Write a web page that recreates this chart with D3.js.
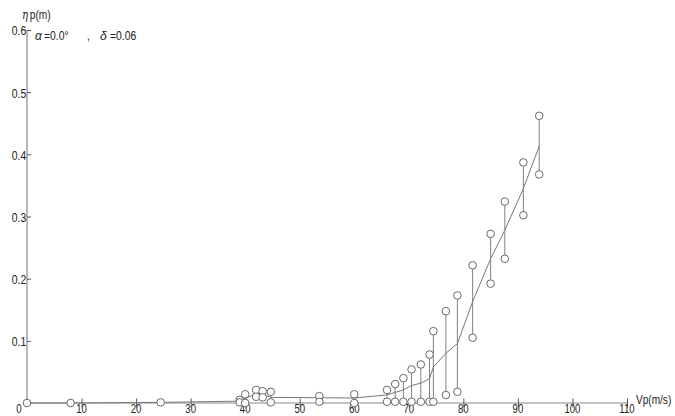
<!DOCTYPE html>
<html>
<head>
<meta charset="utf-8">
<script src="https://cdn.jsdelivr.net/npm/d3@7"></script>
<style>
  html, body { margin: 0; padding: 0; background: #fff; }
  svg { display: block; }
  text { font-family: "Liberation Sans", Arial, sans-serif; fill: #222; }
</style>
</head>
<body>
<svg id="chart" width="675" height="416"></svg>
<script>
// Flight speed Vp (m/s) at each measurement station
const speeds = [0, 8, 24.5, 39, 40, 42, 43.2, 44.7, 53.6, 60, 66, 67.5, 69, 70.5, 72.2, 73.8, 74.5, 76.8, 78.9, 81.7, 85, 87.6, 91, 93.9];
// Largest and smallest measured ηp (m) at each speed
const upperValues = [0, 0, 0.001, 0.005, 0.014, 0.021, 0.019, 0.018, 0.011, 0.014, 0.021, 0.0305, 0.040, 0.054, 0.062, 0.078, 0.1156, 0.1477, 0.173, 0.2215, 0.272, 0.324, 0.387, 0.462];
const lowerValues = [0, 0, 0.001, 0.001, 0.0, 0.010, 0.009, 0.001, 0.002, 0.0, 0.002, 0.002, 0.002, 0.002, 0.002, 0.002, 0.002, 0.0128, 0.018, 0.105, 0.192, 0.232, 0.302, 0.3676];
// Mean ηp (m) curve
const meanValues = [0, 0, 0.001, 0.003, 0.007, 0.015, 0.014, 0.009, 0.0085, 0.008, 0.013, 0.017, 0.021, 0.028, 0.032, 0.039, 0.058, 0.08, 0.0955, 0.163, 0.232, 0.278, 0.345, 0.413];
// Axis ticks
const xTicks = [10, 20, 30, 40, 50, 60, 70, 80, 90, 100, 110];
const yTicks = [0.1, 0.2, 0.3, 0.4, 0.5, 0.6];

const svg = d3.select("#chart");
const x = d3.scaleLinear().domain([0, 110]).range([27, 627]);
const y = d3.scaleLinear().domain([0, 0.6]).range([403, 30]);

const axisColor = "#8a8a8a";
const squeeze = 0.8; // narrow lettering

// Text placed at (px, py) and compressed horizontally
function label(parent, px, py, str, size, anchor, sx) {
  return parent.append("text")
    .attr("transform", `translate(${px},${py}) scale(${sx || squeeze},1)`)
    .attr("text-anchor", anchor || "start")
    .attr("font-size", size)
    .text(str);
}

// Axis lines
svg.append("line").attr("x1", x(0)).attr("x2", x(110)).attr("y1", y(0)).attr("y2", y(0))
  .attr("stroke", axisColor).attr("stroke-width", 1.2);
svg.append("line").attr("x1", x(0)).attr("x2", x(0)).attr("y1", y(0)).attr("y2", y(0.6))
  .attr("stroke", axisColor).attr("stroke-width", 1.2);

// X ticks cross the axis line
const xAxis = svg.append("g")
  .attr("transform", `translate(0,${y(0) - 4.5})`)
  .call(d3.axisBottom(x).tickValues(xTicks).tickSize(9).tickFormat(""));
xAxis.select(".domain").remove();
xAxis.selectAll(".tick line").attr("stroke", "#555");

const xLabels = svg.append("g");
xTicks.forEach(t => label(xLabels, x(t), 413, String(t), 12, "middle"));
label(svg, 19, 413, "0", 12, "middle");

// Y ticks point inward
const yAxis = svg.append("g")
  .attr("transform", `translate(${x(0)},0)`)
  .call(d3.axisLeft(y).tickValues(yTicks).tickSizeInner(-4).tickSizeOuter(0).tickPadding(1)
    .tickFormat(d3.format(".1f")));
yAxis.select(".domain").remove();
yAxis.selectAll(".tick line").attr("stroke", "#555");
yAxis.selectAll(".tick text")
  .attr("font-size", 13).attr("fill", "#222")
  .attr("font-family", "'Liberation Sans', Arial, sans-serif")
  .attr("dy", "0.38em")
  .attr("transform", `scale(${squeeze},1)`);

// Axis titles
const yTitle = svg.append("text")
  .attr("transform", `translate(22,19) scale(${squeeze + 0.05},1)`)
  .attr("font-size", 12);
yTitle.append("tspan").attr("font-style", "italic").attr("font-family", "'DejaVu Serif', serif").text("η");
yTitle.append("tspan").attr("dx", 2).text("p(m)");
label(svg, 636, 404, "Vp(m/s)", 12, "start", 0.84);

// Condition note
const note = svg.append("g");
note.append("text").attr("x", 35).attr("y", 40).attr("font-style", "italic")
  .attr("font-family", "'DejaVu Serif', serif").attr("font-size", 12).text("α");
label(note, 44, 40, "=0.0°", 13);
label(note, 87, 40, ",", 13);
note.append("text").attr("x", 100).attr("y", 40).attr("font-style", "italic")
  .attr("font-family", "'DejaVu Serif', serif").attr("font-size", 12).text("δ");
label(note, 110, 40, "=0.06", 13);

const rows = speeds.map((s, i) => ({ s, hi: upperValues[i], lo: lowerValues[i], m: meanValues[i] }));

// Mean curve
svg.append("path").datum(rows)
  .attr("d", d3.line().x(d => x(d.s)).y(d => y(d.m)))
  .attr("fill", "none").attr("stroke", "#777").attr("stroke-width", 1);

// Range bars between the two readings
svg.append("g").selectAll("line").data(rows.filter(d => d.hi !== d.lo)).join("line")
  .attr("x1", d => x(d.s)).attr("x2", d => x(d.s))
  .attr("y1", d => y(d.hi)).attr("y2", d => y(d.lo))
  .attr("stroke", "#808080").attr("stroke-width", 1);

// Reading markers
const pts = [];
rows.forEach(d => {
  pts.push({ s: d.s, v: d.hi });
  if (d.hi !== d.lo) pts.push({ s: d.s, v: d.lo });
});
svg.append("g").selectAll("circle").data(pts).join("circle")
  .attr("cx", d => x(d.s)).attr("cy", d => y(d.v)).attr("r", 3.8)
  .attr("fill", "#fff").attr("stroke", "#6a6a6a").attr("stroke-width", 1);
</script>
</body>
</html>
